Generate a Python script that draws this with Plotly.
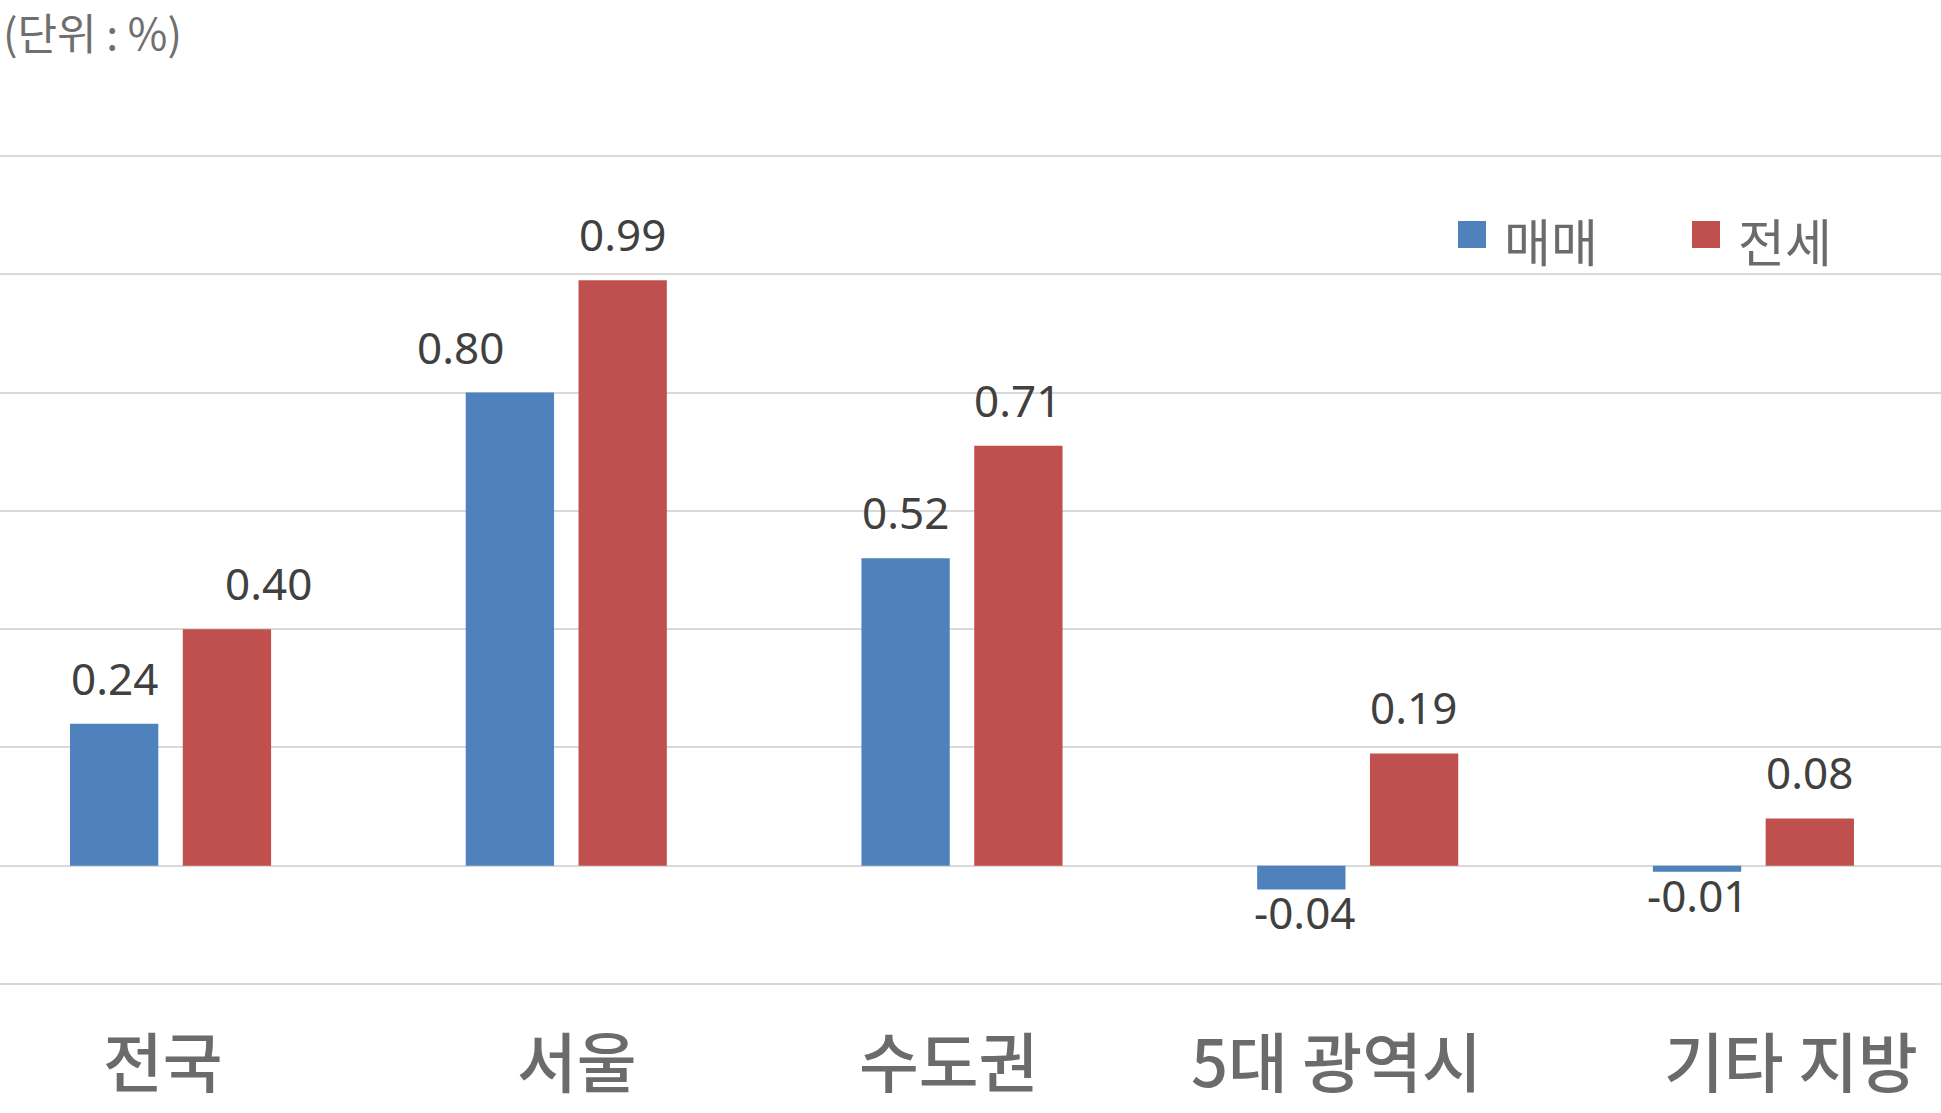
import plotly.graph_objects as go

categories = ["전국", "서울", "수도권", "5대 광역시", "기타 지방"]
sale_values = [0.24, 0.80, 0.52, -0.04, -0.01]      # 매매
jeonse_values = [0.40, 0.99, 0.71, 0.19, 0.08]      # 전세
series_names = ["매매", "전세"]
series_colors = ["#4F81BD", "#C0504D"]
y_ticks = [-0.2, 0.0, 0.2, 0.4, 0.6, 0.8, 1.0, 1.2]
unit_label = "(단위 : %)"

# label placement tweaks (pixels), as in the original chart
sale_label_dx = [0, -50, 0, 3, 0]
jeonse_label_dx = [42, 0, 0, 0, 0]
cat_label_dx = [-8, 11, -13, -21, 38]

W, H = 1941, 1113
Y_PAD = 0.01
PX_PER_UNIT = 591.4
M_T = round(156 - Y_PAD * PX_PER_UNIT)
M_B = round(H - 984 - Y_PAD * PX_PER_UNIT)
plot_h = H - M_T - M_B
BAR_OFF = 56


def py_to_paper(py):
    return (H - M_B - py) / plot_h


fig = go.Figure()
for name, vals, col in zip(series_names, [sale_values, jeonse_values], series_colors):
    fig.add_trace(go.Bar(
        x=categories, y=vals, name=name, marker=dict(color=col, line=dict(width=0)),
        showlegend=False, hoverinfo="skip",
    ))

label_font = dict(family="Noto Sans, Open Sans, sans-serif", size=44, color="#404040")
annotations = []
for vals, shift, dxs in [(sale_values, -BAR_OFF, sale_label_dx), (jeonse_values, BAR_OFF, jeonse_label_dx)]:
    for c, v, dx in zip(categories, vals, dxs):
        annotations.append(dict(
            x=c, y=v, xref="x", yref="y", text=f"{v:.2f}", showarrow=False,
            xshift=shift + dx, yanchor="bottom" if v >= 0 else "top",
            yshift=14 if v >= 0 else 9, font=label_font,
        ))

# category labels
for c, dx in zip(categories, cat_label_dx):
    annotations.append(dict(
        x=c, y=py_to_paper(1059), xref="x", yref="paper", text=c, showarrow=False,
        xshift=dx, yanchor="middle",
        font=dict(family="Noto Sans CJK KR", size=65, color="#6B6B6B", weight=500),
    ))

# unit label
annotations.append(dict(
    x=0.0, y=py_to_paper(-2), xref="paper", yref="paper", xanchor="left", yanchor="top",
    text=unit_label, showarrow=False, xshift=1,
    font=dict(family="Noto Sans CJK KR", size=43, color="#6F6F6F"),
))

# legend (manual, large squares)
legend_items = [(1458, series_names[0], series_colors[0]), (1692, series_names[1], series_colors[1])]
shapes = []
for px, name, col in legend_items:
    shapes.append(dict(type="rect", xref="paper", yref="paper", x0=px / W, x1=(px + 28) / W,
                       y0=py_to_paper(248), y1=py_to_paper(221), fillcolor=col, line=dict(width=0)))
    annotations.append(dict(
        x=(px + 44) / W, y=py_to_paper(240), xref="paper", yref="paper",
        xanchor="left", yanchor="middle", text=name, showarrow=False,
        font=dict(family="Noto Sans CJK KR", size=51, color="#6B6B6B"),
    ))

fig.update_layout(
    width=W, height=H,
    margin=dict(l=0, r=0, t=M_T, b=M_B),
    paper_bgcolor="white", plot_bgcolor="white",
    barmode="group", bargap=0.43, bargroupgap=0.217,
    annotations=annotations, shapes=shapes,
    showlegend=False,
    xaxis=dict(
        type="category", range=[-0.431, 4.474], showgrid=False, showline=False,
        ticks="", showticklabels=False,
    ),
    yaxis=dict(
        range=[-0.2 - Y_PAD, 1.2 + Y_PAD], tickvals=y_ticks, showticklabels=False,
        showgrid=True, gridcolor="#D9D9D9", gridwidth=2,
        zeroline=True, zerolinecolor="#D9D9D9", zerolinewidth=2,
        showline=False,
    ),
)

fig.write_html("out.html")
